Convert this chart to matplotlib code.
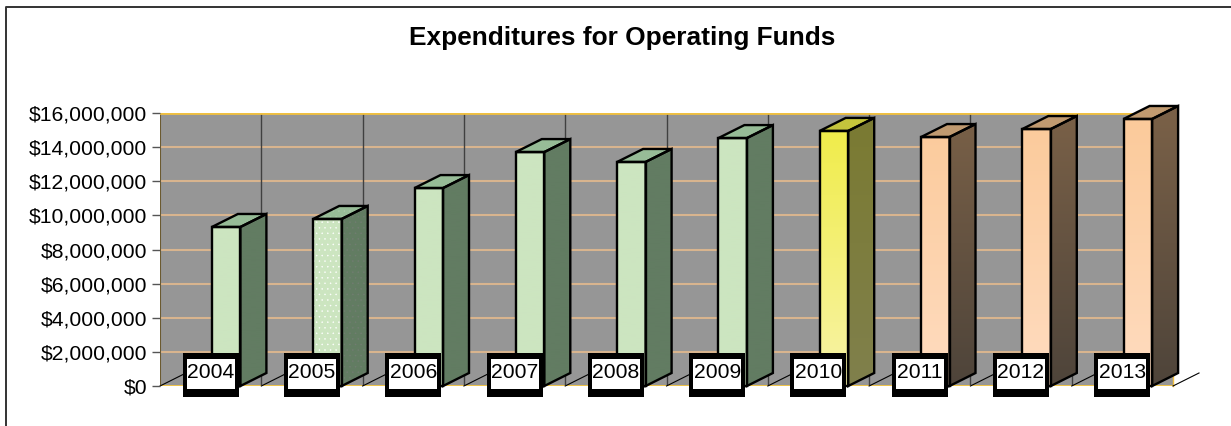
#!/usr/bin/python3 -B

import matplotlib.pyplot as plt
from matplotlib.colors import LinearSegmentedColormap
from matplotlib.lines import Line2D
from matplotlib.patches import Polygon, Rectangle
import numpy as np

plt.rcParams['font.family'] = ['Liberation Sans', 'DejaVu Sans']
plt.rcParams['hatch.linewidth'] = 0.3

years = ["2004", "2005", "2006", "2007", "2008", "2009", "2010", "2011", "2012", "2013"]
spending = [9320000, 9790000, 11600000, 13710000, 13130000, 14530000, 14950000, 14590000, 15060000, 15650000]
tick_values = [0, 2000000, 4000000, 6000000, 8000000, 10000000, 12000000, 14000000, 16000000]

W, H = 1231, 426
LEFT, RIGHT, TOP, BOTTOM = 160, 1173, 113, 386
YMAX = 16000000

# pixel sizes turned into data units
px_x = (len(years)) / (RIGHT - LEFT)
px_y = YMAX / (BOTTOM - TOP)
depth_x = 26 * px_x
depth_y = 13 * px_y
bar_w = 28.5 * px_x
bar_shift = 15.5 * px_x

green = dict(front=("#cce5c0", "#cce5c0"), side=("#627c62", "#627c62"), top="#97bc97")
yellow = dict(front=("#f8f4a8", "#efeb3f"), side=("#80804c", "#7a7a30"), top="#c4c43c")
peach = dict(front=("#ffdcc0", "#fbc998"), side=("#4e443a", "#7c6248"), top="#c09a70")
styles = [green] * 6 + [yellow] + [peach] * 3

fig = plt.figure(figsize=(W / 100, H / 100), dpi=100)
ax = fig.add_axes([LEFT / W, 1 - BOTTOM / H, (RIGHT - LEFT) / W, (BOTTOM - TOP) / H])
ax.set_facecolor("#969696")


def face(points, colors, z):
    # gradient runs over the whole plot height, not per bar
    cmap = LinearSegmentedColormap.from_list("g", colors)
    grad = np.linspace(0, 1, 256).reshape(-1, 1)
    im = ax.imshow(grad, cmap=cmap, extent=(-1, 11, 0, YMAX * 1.05), origin="lower",
                   aspect="auto", zorder=z)
    poly = Polygon(points, closed=True, transform=ax.transData, fill=False, lw=0)
    im.set_clip_path(poly)
    im.set_clip_box(fig.bbox)


def outline(points, z, hatch=None, hatch_color="white"):
    ax.add_patch(Polygon(points, closed=True, fill=False, edgecolor="black", lw=1.7,
                         joinstyle="miter", clip_on=False, zorder=z + 0.2))
    if hatch:
        ax.add_patch(Polygon(points, closed=True, fill=False, edgecolor=hatch_color, lw=0,
                             hatch=hatch, clip_on=False, zorder=z + 0.1))


# back wall
for v in tick_values[1:-1]:
    ax.axhline(v, color="#d8b48e", lw=1.5, zorder=1)
for i in range(1, len(years)):
    ax.axvline(i - 0.5, color="#404040", lw=1, zorder=1.1)
ax.plot([-0.5, -0.5], [0, YMAX], color="#6b5a30", lw=1.5, zorder=1.2)
ax.plot([9.5, 9.5], [0, depth_y], color="#f0c040", lw=1, zorder=1.2, clip_on=False)
ax.axhline(YMAX, color="#f0c040", lw=2, zorder=1.2)
ax.axhline(0, color="#f8c840", lw=2, zorder=1.2)

# floor lines
for i in range(len(years) + 1):
    ax.plot([i - 0.5, i - 0.5 + depth_x], [0, depth_y], color="black", lw=0.8,
            clip_on=False, zorder=1.5)

# bars
for i, (value, st) in enumerate(zip(spending, styles)):
    x0 = i + bar_shift - bar_w / 2
    x1 = x0 + bar_w
    z = 3 + i
    front = [(x0, 0), (x1, 0), (x1, value), (x0, value)]
    side = [(x1, 0), (x1 + depth_x, depth_y), (x1 + depth_x, value + depth_y), (x1, value)]
    top = [(x0, value), (x1, value), (x1 + depth_x, value + depth_y), (x0 + depth_x, value + depth_y)]
    face(front, st["front"], z)
    face(side, st["side"], z)
    ax.add_patch(Polygon(top, closed=True, facecolor=st["top"], lw=0, clip_on=False, zorder=z))
    dotted = years[i] == "2005"
    outline(front, z, "..." if dotted else None, "white")
    outline(side, z, "..." if dotted else None, "#727c72")
    outline(top, z, "..." if dotted else None, "#a8c8a8")

# category labels sit in boxes on top of the bars
for i, year in enumerate(years):
    ax.add_patch(Rectangle((i - 28 * px_x, -11 * px_y), 56 * px_x, 44 * px_y, facecolor="black",
                           lw=0, clip_on=False, zorder=20))
    ax.add_patch(Rectangle((i - 24 * px_x, -3 * px_y), 48 * px_x, 30 * px_y, facecolor="white",
                           lw=0, clip_on=False, zorder=21))
    ax.text(i, 14 * px_y, year, ha="center", va="center", fontsize=15.2, color="black",
            clip_on=False, zorder=22)

ax.set_xlim(-0.5, 9.5)
ax.set_ylim(0, YMAX)
ax.set_xticks([])
ax.set_yticks(tick_values, [f"${v:,}" for v in tick_values])
ax.tick_params(axis="y", length=6, width=1, color="#555555", labelsize=15.2, pad=3)
for s in ax.spines.values():
    s.set_visible(False)

fig.text(622 / W, 1 - 38 / H, "Expenditures for Operating Funds", ha="center", va="center",
         fontsize=18.9, fontweight="bold")

# chart frame, only left and top are in the crop
fig.add_artist(Line2D([5.5 / W, 5.5 / W, 1], [0, 1 - 6.5 / H, 1 - 6.5 / H], color="#333333", lw=1.4))

fig.savefig("out.png", dpi=100)
